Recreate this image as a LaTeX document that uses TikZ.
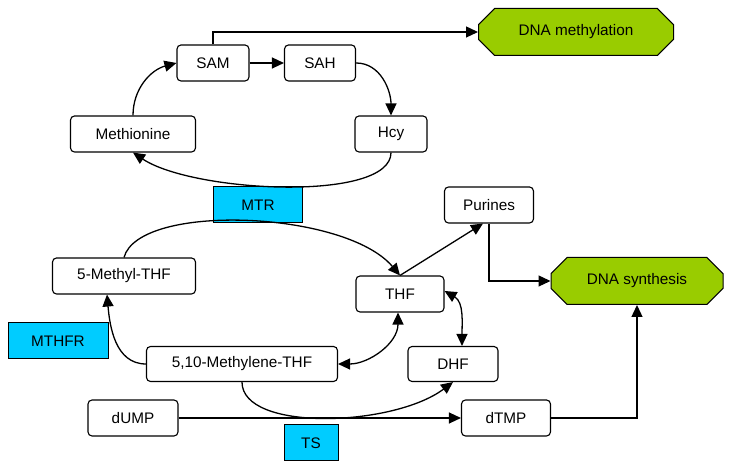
\documentclass[tikz,border=0pt]{standalone}
\usepackage{fontspec}
\setmainfont{Liberation Sans}
\usetikzlibrary{arrows.meta,shapes.misc}
\definecolor{enzblue}{RGB}{0,204,255}
\definecolor{outgreen}{RGB}{153,204,0}

\begin{document}
\begin{tikzpicture}[x=1pt,y=1pt,
  font=\fontsize{15.3}{18}\selectfont,
  met/.style={draw, rounded corners=4pt, line width=1.1pt, minimum height=36pt, inner sep=0pt},
  enz/.style={draw, fill=enzblue, line width=1pt, minimum height=36pt, inner sep=0pt},
  outcome/.style={draw, fill=outgreen, chamfered rectangle, chamfered rectangle xsep=9pt, chamfered rectangle ysep=9pt, line width=1pt, minimum height=47pt, inner sep=0pt},
  arr/.style={line width=1.3pt, -{Triangle[length=12pt,width=11pt]}},
  darr/.style={line width=1.3pt, {Triangle[length=12pt,width=11pt]}-{Triangle[length=12pt,width=11pt]}}]
\useasboundingbox (0,0) rectangle (732,470);

% Methionine cycle
\node[met, minimum width=72pt] (sam) at (213,407) {SAM};
\node[met, minimum width=71pt] (sah) at (320,407) {SAH};
\node[met, minimum width=125pt] (meth) at (133,336) {Methionine};
\node[met, minimum width=72pt] (hcy) at (391,336) {Hcy};
\node[outcome, minimum width=195pt] (dnameth) at (576,438) {DNA methylation};

% Folate cycle
\node[enz, minimum width=89pt] (mtr) at (258,265) {MTR};
\node[met, minimum width=89pt] (purines) at (489,265) {Purines};
\node[met, minimum width=143pt] (mthf) at (124,194) {5-Methyl-THF};
\node[met, minimum width=88pt] (thf) at (400,176) {THF};
\node[outcome, minimum width=172pt] (dnasyn) at (637,189) {DNA synthesis};
\node[enz, minimum width=100pt] (mthfr) at (58,129) {MTHFR};
\node[met, minimum width=191pt, minimum height=35pt] (mlthf) at (242,106) {5,10-Methylene-THF};
\node[met, minimum width=90pt, minimum height=35pt] (dhf) at (453,106) {DHF};

% Thymidylate
\node[met, minimum width=90pt] (dump) at (133,52) {dUMP};
\node[met, minimum width=89pt] (dtmp) at (506,52) {dTMP};
\node[enz, minimum width=54pt] (ts) at (311,27) {TS};

% Connectors, methionine cycle
\draw[arr] (sam.north) |- (dnameth.west);
\draw[arr] (sam) -- (sah);
\draw[arr] (sah.east) to[out=0,in=90] (hcy.north);
\draw[arr] (meth.north) to[out=90,in=195] (sam.west);
\draw[arr] (hcy.south) .. controls +(0,-50) and +(60,-40) .. (meth.south);

% Connectors, folate cycle
\draw[arr] (mthf.north) .. controls +(15,55) and +(-55,65) .. (thf.north);
\draw[arr] (thf.north) -- ([xshift=-6pt]purines.south);
\draw[arr] (purines.south) |- (dnasyn.west);
\draw[arr] (mlthf.west) to[out=180,in=-85] ([xshift=-17pt]mthf.south);
\draw[darr] (mlthf.east) to[out=0,in=-90] ([xshift=-2pt]thf.south);
\draw[darr] ([yshift=3pt]thf.east) to[out=-30,in=90] ([xshift=9pt]dhf.north);
\draw[arr] (mlthf.south) .. controls +(0,-50) and +(-60,-45) .. (dhf.south);

% Connectors, thymidylate
\draw[arr] (dump) -- (dtmp);
\draw[arr] (dtmp.east) -| (dnasyn.south);
\end{tikzpicture}
\end{document}
